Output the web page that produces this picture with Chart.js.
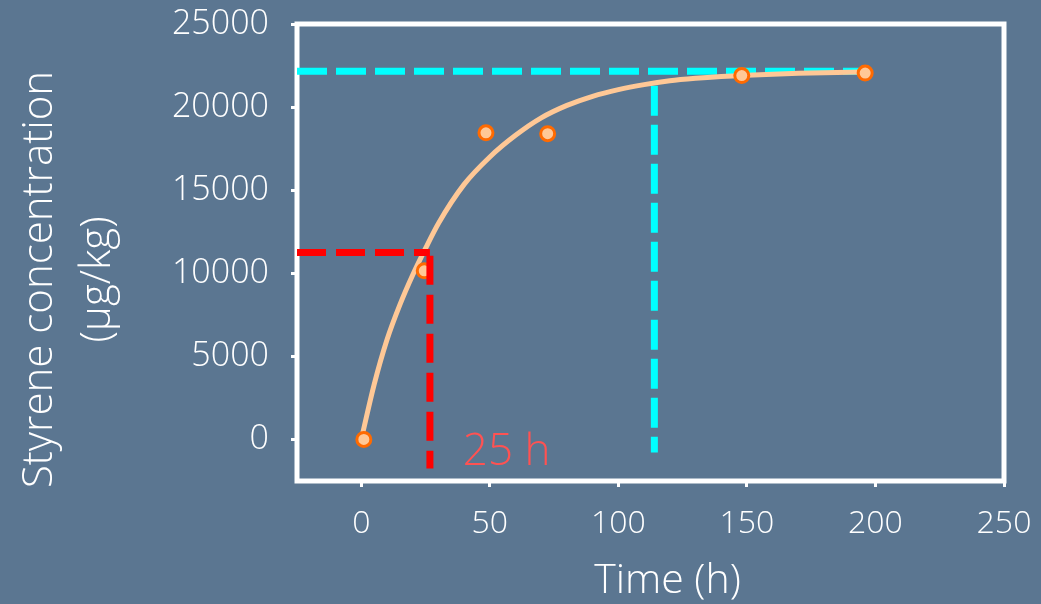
<!DOCTYPE html>
<html>
<head>
<meta charset="utf-8">
<script src="https://cdn.jsdelivr.net/npm/chart.js@4.4.1/dist/chart.umd.min.js"></script>
<style>
  html, body { margin: 0; padding: 0; background: #5b7691; }
  canvas { display: block; }
</style>
</head>
<body>
<canvas id="c" width="1041" height="604"></canvas>
<script>
// ---- data ----
const measuredTime = [1, 24.5, 48.5, 72.5, 148, 196];
const measuredConc = [0, 10150, 18450, 18400, 21900, 22050];

const fitTime = [0, 5, 10, 15, 20, 25, 30, 40, 50, 60, 70, 80, 90, 100, 110, 120, 130, 140, 150, 160, 170, 180, 190, 197];
const fitConc = [0, 3300, 6000, 8100, 9900, 11500, 13000, 15350, 17000, 18300, 19350, 20100, 20650, 21050, 21350, 21580, 21730, 21840, 21920, 21980, 22030, 22070, 22100, 22110];

const halfLifeLineX = [-25, 26.7, 26.7, 26.7];
const halfLifeLineY = [11250, 11250, 11050, -1750];
const plateauLineX = [-25, 197, 114, 114];
const plateauLineY = [22150, 22150, 21280, -780];

const xTickValues = [0, 50, 100, 150, 200, 250];
const yTickValues = [0, 5000, 10000, 15000, 20000, 25000];

const annotationText = ['25 h'];
const annotationX = [39.5];
const annotationY = [-800];

const xTitle = 'Time (h)';
const yTitle = ['Styrene concentration', '(µg/kg)'];

// ---- build ----
const pts = (xs, ys) => xs.map((x, i) => ({ x, y: ys[i] }));
const FONT = '"Open Sans", "Segoe UI", sans-serif';
const WHITE = '#ffffff';

const frame = {
  id: 'frame',
  beforeDatasetsDraw(chart) {
    const a = chart.chartArea, ctx = chart.ctx;
    ctx.save();
    ctx.strokeStyle = WHITE;
    ctx.lineWidth = 5;
    ctx.strokeRect(a.left, a.top, a.right - a.left, a.bottom - a.top);
    ctx.restore();
  },
  afterDatasetsDraw(chart) {
    const ctx = chart.ctx, xs = chart.scales.x, ys = chart.scales.y;
    ctx.save();
    ctx.fillStyle = '#ff5252';
    ctx.font = '300 44px ' + FONT;
    ctx.textAlign = 'left';
    ctx.textBaseline = 'middle';
    annotationText.forEach((t, i) => {
      ctx.fillText(t, xs.getPixelForValue(annotationX[i]), ys.getPixelForValue(annotationY[i]));
    });
    ctx.restore();
  },
  afterDraw(chart) {
    // axis titles, placed in the space reserved by the axes
    const ctx = chart.ctx, xs = chart.scales.x, ys = chart.scales.y;
    ctx.save();
    ctx.fillStyle = WHITE;
    ctx.textAlign = 'center';
    ctx.textBaseline = 'alphabetic';
    ctx.font = '300 41px ' + FONT;
    ctx.fillText(xTitle, xs.left + (xs.right - xs.left) * 0.5 + 17, xs.bottom - 11);
    ctx.font = '300 42px ' + FONT;
    const cy = (ys.top + ys.bottom) / 2 + 27;
    yTitle.forEach((line, i) => {
      ctx.save();
      ctx.translate(ys.left + 38 + i * 58, cy);
      ctx.rotate(-Math.PI / 2);
      ctx.fillText(line, 0, 0);
      ctx.restore();
    });
    ctx.restore();
  }
};

const dashed = (data, color, dash, order) => ({
  type: 'scatter', data, showLine: true, borderColor: color, backgroundColor: color,
  borderWidth: 7, borderDash: dash, pointRadius: 0, order, borderCapStyle: 'butt'
});

new Chart(document.getElementById('c'), {
  type: 'scatter',
  data: {
    datasets: [
      dashed(pts(plateauLineX.slice(0, 2), plateauLineY.slice(0, 2)), '#00ffff', [30, 9], 6),
      dashed(pts(plateauLineX.slice(2, 4), plateauLineY.slice(2, 4)), '#00ffff', [30, 9], 6),
      {
        type: 'scatter', data: pts(fitTime, fitConc), showLine: true,
        borderColor: '#ffc896', borderWidth: 5, pointRadius: 0, tension: 0.4,
        cubicInterpolationMode: 'monotone', order: 4
      },
      {
        type: 'scatter', data: pts(measuredTime, measuredConc),
        pointRadius: 7, pointBackgroundColor: '#ffc896', pointBorderColor: '#ff6a00',
        pointBorderWidth: 3, order: 3
      },
      dashed(pts(halfLifeLineX.slice(0, 2), halfLifeLineY.slice(0, 2)), '#ff0000', [29, 10], 1),
      dashed(pts(halfLifeLineX.slice(2, 4), halfLifeLineY.slice(2, 4)), '#ff0000', [29, 10], 1)
    ]
  },
  options: {
    responsive: false,
    animation: false,
    layout: { padding: { top: 24, right: 37, left: 14, bottom: 0 } },
    plugins: { legend: { display: false }, tooltip: { enabled: false } },
    scales: {
      x: {
        type: 'linear', min: -25, max: 250,
        afterBuildTicks: s => { s.ticks = xTickValues.map(v => ({ value: v })); },
        afterFit: s => { s.height = 123; s.paddingLeft = 0; s.paddingRight = 0; },
        border: { display: false },
        grid: { drawOnChartArea: false, drawTicks: true, tickLength: 6, tickWidth: 3, color: WHITE },
        ticks: { color: WHITE, font: { family: FONT, size: 32, weight: 300 }, padding: 18, maxRotation: 0,
                 callback: v => String(v) },
        title: { display: false, text: xTitle }
      },
      y: {
        type: 'linear', min: -2500, max: 25000,
        afterBuildTicks: s => { s.ticks = yTickValues.map(v => ({ value: v })); },
        afterFit: s => { s.width = 283; s.paddingTop = 0; s.paddingBottom = 0; },
        border: { display: false },
        grid: { drawOnChartArea: false, drawTicks: true, tickLength: 6, tickWidth: 3, color: WHITE },
        ticks: { color: WHITE, font: { family: FONT, size: 34, weight: 300 }, padding: 22,
                 callback: v => String(v) },
        title: { display: false, text: yTitle }
      }
    }
  },
  plugins: [frame]
});
</script>
</body>
</html>
